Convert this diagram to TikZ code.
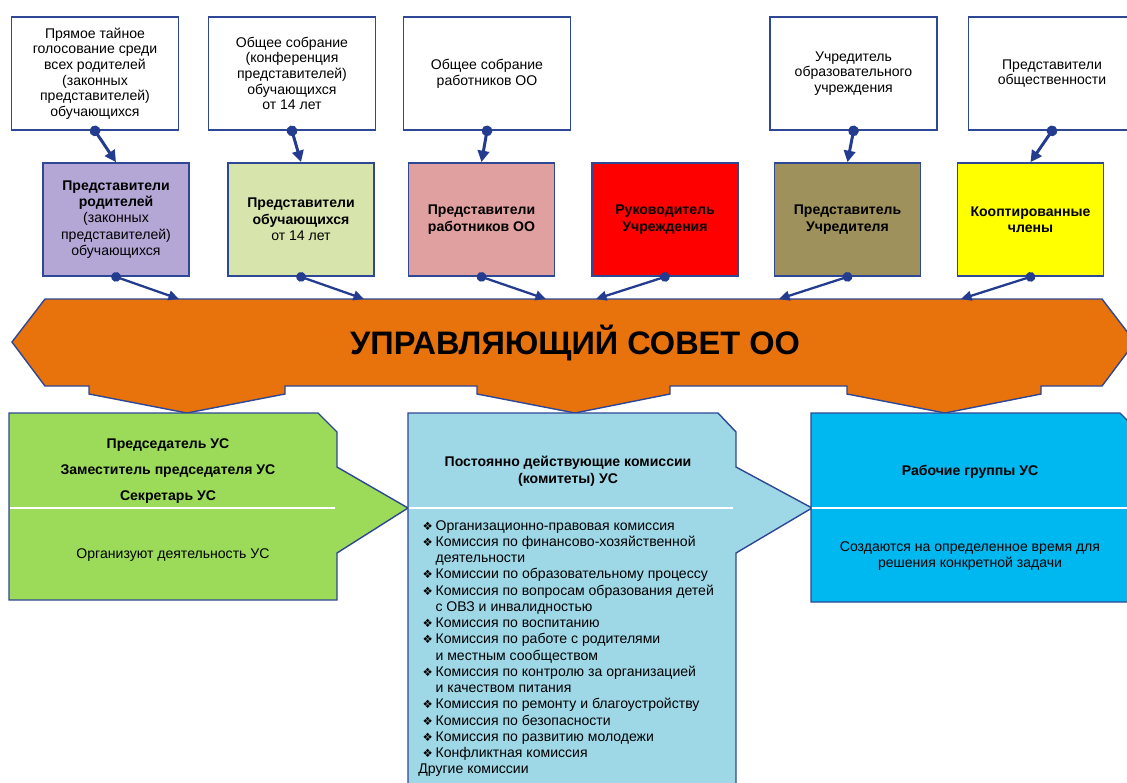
\documentclass[tikz,border=0pt]{standalone}
\usepackage{fontspec}
\setmainfont{Liberation Sans}
\newfontfamily\symfont{DejaVu Sans}
\usetikzlibrary{arrows.meta}

\definecolor{edgeblue}{HTML}{2F4896}
\definecolor{linkblue}{HTML}{243C8F}
\definecolor{parentfill}{HTML}{B4A7D6}
\definecolor{pupilfill}{HTML}{D7E4AB}
\definecolor{stafffill}{HTML}{E0A09F}
\definecolor{headfill}{HTML}{FF0000}
\definecolor{founderfill}{HTML}{9E915C}
\definecolor{coopfill}{HTML}{FFFF00}
\definecolor{councilfill}{HTML}{E8720C}
\definecolor{greenfill}{HTML}{9BDB59}
\definecolor{paleblue}{HTML}{9ED8E6}
\definecolor{cyanfill}{HTML}{00B8F0}

\newcommand{\bul}{\hspace*{2.4pt}\makebox[7.4pt][l]{\symfont\fontsize{6.5}{6.5}\selectfont ❖}}
\newcommand{\cnt}{\hspace*{9.8pt}}

\begin{document}
\begin{tikzpicture}[x=0.02cm, y=-0.02cm,
    srcbox/.style={rectangle, draw=edgeblue, line width=1pt, fill=white, minimum width=3.34cm, minimum height=2.26cm, align=center, inner sep=2pt, font=\fontsize{8}{8.9}\selectfont},
    repbox/.style={srcbox, minimum width=2.92cm, font=\fontsize{8}{9.3}\selectfont},
    feed/.style={{Circle[length=6pt]}-{Triangle[length=6.5pt,width=6.5pt]}, draw=linkblue, line width=1.7pt, shorten <=-3pt},
    uplink/.style={{Circle[length=5.5pt]}-{Triangle[length=6pt,width=5.5pt]}, draw=linkblue, line width=1.3pt, shorten <=-2.75pt},
    panel/.style={draw=edgeblue, line width=0.8pt},
    txt/.style={align=center, inner sep=0pt, font=\fontsize{8}{9.3}\selectfont}
  ]
  \useasboundingbox (0,0) rectangle (1127,782);
  \clip (0,0) rectangle (1127,782);
  \fill[white] (0,0) rectangle (1127,782);

  % who elects
  \node (t1) [srcbox] at (95,73.5) {Прямое тайное\\голосование среди\\всех родителей\\(законных\\представителей)\\обучающихся};
  \node (t2) [srcbox] at (292,73.5) {Общее собрание\\(конференция\\представителей)\\обучающихся\\от 14 лет};
  \node (t3) [srcbox] at (487,73.5) {Общее собрание\\работников ОО};
  \node (t4) [srcbox] at (853.5,73.5) {Учредитель\\образовательного\\учреждения};
  \node (t5) [srcbox] at (1052,73.5) {Представители\\общественности};

  % members
  \node (m1) [repbox, fill=parentfill] at (116,219.5) {\textbf{Представители}\\\textbf{родителей}\\(законных\\представителей)\\обучающихся};
  \node (m2) [repbox, fill=pupilfill] at (301,219.5) {\textbf{Представители}\\\textbf{обучающихся}\\от 14 лет};
  \node (m3) [repbox, fill=stafffill] at (481.5,219.5) {\textbf{Представители}\\\textbf{работников ОО}};
  \node (m4) [repbox, fill=headfill] at (665,219.5) {\textbf{Руководитель}\\\textbf{Учреждения}};
  \node (m5) [repbox, fill=founderfill] at (847.5,219.5) {\textbf{Представитель}\\\textbf{Учредителя}};
  \node (m6) [repbox, fill=coopfill] at (1030.5,219.5) {\textbf{Кооптированные}\\\textbf{члены}};

  \draw [feed] (t1.south) -- (m1.north);
  \draw [feed] (t2.south) -- (m2.north);
  \draw [feed] (t3.south) -- (m3.north);
  \draw [feed] (t4.south) -- (m5.north);
  \draw [feed] (t5.south) -- (m6.north);

  % council banner
  \fill [councilfill] (12,342) -- (45,299) -- (1102,299) -- (1135,342) -- (1102,386) -- (1041,386) -- (1041,394)
    -- (945,413) -- (847,394) -- (847,386) -- (670,386) -- (670,394) -- (575,413) -- (477,394) -- (477,386)
    -- (285,386) -- (285,394) -- (187,413) -- (89,394) -- (89,386) -- (45,386) -- cycle;
  \draw [panel] (12,342) -- (45,299) -- (1102,299) -- (1135,342) -- (1102,386) -- (1041,386) -- (1041,394)
    -- (945,413) -- (847,394) -- (847,386) -- (670,386) -- (670,394) -- (575,413) -- (477,394) -- (477,386)
    -- (285,386) -- (285,394) -- (187,413) -- (89,394) -- (89,386) -- (45,386) -- cycle;
  \node (council) [font=\bfseries\fontsize{18.5}{22}\selectfont, inner sep=0pt] at (575,343) {УПРАВЛЯЮЩИЙ СОВЕТ ОО};

  \coordinate (c1) at (179,299);
  \coordinate (c2) at (364,299);
  \coordinate (c3) at (546,299);
  \coordinate (c4) at (596,299);
  \coordinate (c5) at (779,299);
  \coordinate (c6) at (961,299);
  \draw [uplink] (m1.south) -- (c1);
  \draw [uplink] (m2.south) -- (c2);
  \draw [uplink] (m3.south) -- (c3);
  \draw [uplink] (m4.south) -- (c4);
  \draw [uplink] (m5.south) -- (c5);
  \draw [uplink] (m6.south) -- (c6);

  % lower panels
  \draw [panel, fill=greenfill] (9,413) -- (318,413) -- (337,432) -- (337,467) -- (408,508) -- (337,553) -- (337,600) -- (9,600) -- cycle;
  \draw [panel, fill=paleblue] (408,413) -- (718,413) -- (736,432) -- (736,467) -- (812,508) -- (736,553) -- (736,800) -- (408,800) -- cycle;
  \draw [panel, fill=cyanfill] (811,413) -- (1120,413) -- (1139,432) -- (1139,602) -- (811,602) -- cycle;
  \draw [white, line width=0.8pt] (10,508) -- (335,508);
  \draw [white, line width=0.8pt] (409,508) -- (733,508);
  \draw [white, line width=0.8pt] (812,508) -- (1127,508);

  \node (officers) [txt, font=\bfseries\fontsize{8}{14.7}\selectfont] at (168,471) {Председатель УС\\Заместитель председателя УС\\Секретарь УС};
  \node (officersnote) [txt] at (173,555) {Организуют деятельность УС};

  \node (committees) [txt, font=\bfseries\fontsize{8}{9.6}\selectfont] at (568,471.5) {Постоянно действующие комиссии\\(комитеты) УС};
  \node (committeelist) [anchor=north west, align=left, inner sep=0pt, font=\fontsize{8}{9.25}\selectfont] at (418,520) {%
    \bul Организационно-правовая комиссия\\
    \bul Комиссия по финансово-хозяйственной\\
    \cnt деятельности\\
    \bul Комиссии по образовательному процессу\\
    \bul Комиссия по вопросам образования детей\\
    \cnt с ОВЗ и инвалидностью\\
    \bul Комиссия по воспитанию\\
    \bul Комиссия по работе с родителями\\
    \cnt и местным сообществом\\
    \bul Комиссия по контролю за организацией\\
    \cnt и качеством питания\\
    \bul Комиссия по ремонту и благоустройству\\
    \bul Комиссия по безопасности\\
    \bul Комиссия по развитию молодежи\\
    \bul Конфликтная комиссия\\
    Другие комиссии};

  \node (groups) [txt, font=\bfseries\fontsize{8}{9.3}\selectfont] at (970,472) {Рабочие группы УС};
  \node (groupsnote) [txt] at (970,556) {Создаются на определенное время для\\решения конкретной задачи};
\end{tikzpicture}
\end{document}
